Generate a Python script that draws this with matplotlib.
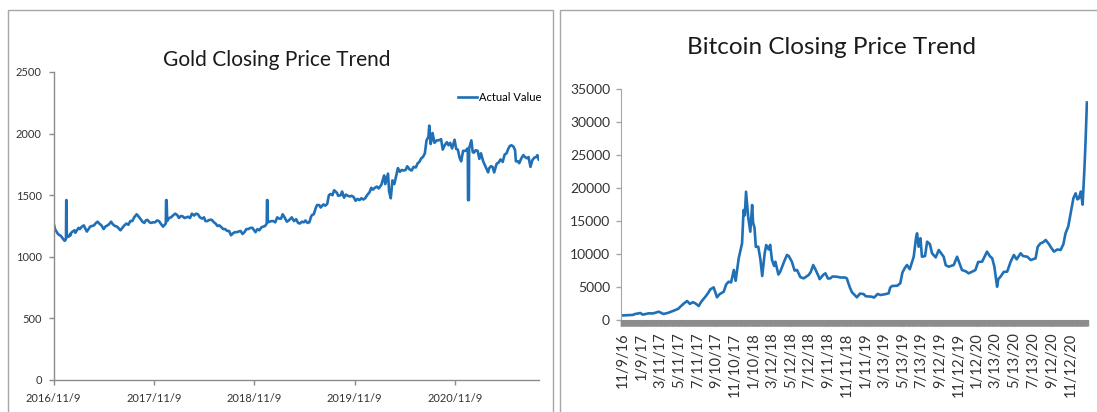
import matplotlib
matplotlib.use("Agg")
import matplotlib.pyplot as plt
import matplotlib.dates as mdates
from matplotlib.ticker import FixedLocator
from matplotlib.patches import Rectangle
import pandas as pd

plt.rcParams['font.family'] = ['Lato', 'DejaVu Sans']

# Gold close (sampled), USD/oz; the 1460 entries are the year-end gaps in the feed
gold_dates = [
    # 2016
    "2016-11-09", "2016-11-10", "2016-11-14", "2016-11-18", "2016-11-25", "2016-12-01",
    "2016-12-05", "2016-12-09", "2016-12-15", "2016-12-19", "2016-12-22", "2016-12-24",
    "2016-12-25", "2016-12-26", "2016-12-27",
    # 2017
    "2017-01-04", "2017-01-08", "2017-01-10", "2017-01-12", "2017-01-17", "2017-01-24", "2017-01-27",
    "2017-02-03", "2017-02-08", "2017-02-12", "2017-02-14", "2017-02-20", "2017-02-27",
    "2017-03-03", "2017-03-10", "2017-03-16", "2017-03-22", "2017-03-28",
    "2017-04-05", "2017-04-12", "2017-04-18", "2017-04-24",
    "2017-05-02", "2017-05-10", "2017-05-16", "2017-05-24", "2017-05-30",
    "2017-06-06", "2017-06-12", "2017-06-20", "2017-06-28",
    "2017-07-10", "2017-07-17", "2017-07-24",
    "2017-08-01", "2017-08-08", "2017-08-15", "2017-08-22", "2017-08-29",
    "2017-09-07", "2017-09-13", "2017-09-20", "2017-09-28",
    "2017-10-05", "2017-10-10", "2017-10-16", "2017-10-24", "2017-10-30",
    "2017-11-06", "2017-11-13", "2017-11-20", "2017-11-27",
    "2017-12-05", "2017-12-12", "2017-12-18", "2017-12-22", "2017-12-23", "2017-12-25", "2017-12-27",
    # 2018
    "2018-01-03", "2018-01-10", "2018-01-17", "2018-01-25",
    "2018-02-01", "2018-02-08", "2018-02-14", "2018-02-20", "2018-02-28",
    "2018-03-06", "2018-03-13", "2018-03-20", "2018-03-27",
    "2018-04-04", "2018-04-11", "2018-04-18", "2018-04-25",
    "2018-05-03", "2018-05-10", "2018-05-15", "2018-05-22", "2018-05-30",
    "2018-06-07", "2018-06-15", "2018-06-21", "2018-06-28",
    "2018-07-05", "2018-07-12", "2018-07-19", "2018-07-26",
    "2018-08-02", "2018-08-09", "2018-08-16", "2018-08-23", "2018-08-30",
    "2018-09-06", "2018-09-13", "2018-09-20", "2018-09-27",
    "2018-10-04", "2018-10-11", "2018-10-18", "2018-10-26",
    "2018-11-02", "2018-11-13", "2018-11-20", "2018-11-27",
    "2018-12-05", "2018-12-12", "2018-12-18", "2018-12-24", "2018-12-25", "2018-12-27", "2018-12-28",
    # 2019
    "2019-01-04", "2019-01-10", "2019-01-17", "2019-01-24", "2019-01-31",
    "2019-02-07", "2019-02-14", "2019-02-20", "2019-02-27",
    "2019-03-07", "2019-03-14", "2019-03-25",
    "2019-04-02", "2019-04-10", "2019-04-17", "2019-04-23",
    "2019-05-01", "2019-05-08", "2019-05-14", "2019-05-21", "2019-05-28",
    "2019-06-03", "2019-06-07", "2019-06-13", "2019-06-20", "2019-06-25",
    "2019-07-03", "2019-07-08", "2019-07-18", "2019-07-25",
    "2019-08-01", "2019-08-07", "2019-08-13", "2019-08-20", "2019-08-26",
    "2019-09-05", "2019-09-10", "2019-09-19", "2019-09-24",
    "2019-10-01", "2019-10-08", "2019-10-15", "2019-10-22", "2019-10-29",
    "2019-11-05", "2019-11-12", "2019-11-19", "2019-11-26",
    "2019-12-03", "2019-12-10", "2019-12-17", "2019-12-24",
    # 2020
    "2020-01-02", "2020-01-08", "2020-01-14", "2020-01-21", "2020-01-28",
    "2020-02-04", "2020-02-14", "2020-02-21", "2020-02-24", "2020-02-28",
    "2020-03-09", "2020-03-13", "2020-03-19", "2020-03-25",
    "2020-04-01", "2020-04-07", "2020-04-14", "2020-04-21", "2020-04-28",
    "2020-05-05", "2020-05-12", "2020-05-18", "2020-05-26",
    "2020-06-03", "2020-06-10", "2020-06-18", "2020-06-25",
    "2020-07-01", "2020-07-08", "2020-07-14", "2020-07-21", "2020-07-27",
    "2020-08-03", "2020-08-06", "2020-08-11", "2020-08-14", "2020-08-18", "2020-08-25",
    "2020-09-02", "2020-09-09", "2020-09-18", "2020-09-24",
    "2020-10-01", "2020-10-09", "2020-10-15", "2020-10-21", "2020-10-28",
    "2020-11-06", "2020-11-12", "2020-11-18", "2020-11-24", "2020-11-30",
    "2020-12-07", "2020-12-16", "2020-12-21", "2020-12-24", "2020-12-25", "2020-12-28", "2020-12-29",
    # 2021
    "2021-01-06", "2021-01-11", "2021-01-15", "2021-01-22", "2021-01-29",
    "2021-02-04", "2021-02-10", "2021-02-18", "2021-02-26",
    "2021-03-08", "2021-03-12", "2021-03-18", "2021-03-24", "2021-03-30",
    "2021-04-08", "2021-04-15", "2021-04-22", "2021-04-30",
    "2021-05-07", "2021-05-14", "2021-05-20", "2021-05-26",
    "2021-06-01", "2021-06-08", "2021-06-14", "2021-06-17", "2021-06-24", "2021-06-29",
    "2021-07-07", "2021-07-14", "2021-07-20", "2021-07-27",
    "2021-08-02", "2021-08-06", "2021-08-09", "2021-08-16", "2021-08-23", "2021-08-30",
    "2021-09-03", "2021-09-08",
]
gold_close = [
    # 2016
    1275, 1265, 1225, 1210, 1185, 1175,
    1170, 1160, 1140, 1130, 1135, 1150,
    1460, 1460, 1160,
    # 2017
    1165, 1185, 1175, 1195, 1205, 1215, 1195,
    1220, 1235, 1225, 1230, 1245, 1255,
    1235, 1205, 1225, 1245, 1250,
    1255, 1275, 1285, 1270,
    1255, 1225, 1245, 1255, 1265,
    1285, 1265, 1250, 1245,
    1215, 1235, 1255,
    1270, 1260, 1290, 1290, 1320,
    1345, 1330, 1310, 1285,
    1275, 1295, 1300, 1280, 1275,
    1280, 1280, 1295, 1290,
    1265, 1245, 1260, 1270, 1460, 1460, 1290,
    # 2018
    1315, 1320, 1335, 1350,
    1340, 1315, 1330, 1330, 1315,
    1320, 1325, 1315, 1350,
    1335, 1350, 1345, 1320,
    1310, 1320, 1290, 1290, 1300,
    1300, 1280, 1270, 1250,
    1255, 1240, 1225, 1225,
    1210, 1210, 1175, 1190, 1200,
    1200, 1205, 1210, 1185,
    1200, 1225, 1225, 1235,
    1235, 1200, 1225, 1215,
    1240, 1245, 1250, 1270, 1460, 1460, 1280,
    # 2019
    1285, 1290, 1290, 1280, 1320,
    1310, 1310, 1345, 1320,
    1285, 1295, 1320,
    1290, 1305, 1275, 1270,
    1285, 1280, 1295, 1275, 1280,
    1325, 1340, 1345, 1395, 1420,
    1420, 1400, 1425, 1415,
    1430, 1500, 1510, 1500, 1540,
    1520, 1495, 1500, 1530,
    1480, 1505, 1495, 1490, 1495,
    1485, 1455, 1470, 1460,
    1475, 1465, 1475, 1500,
    # 2020
    1525, 1560, 1545, 1560, 1570,
    1555, 1585, 1640, 1660, 1590,
    1675, 1530, 1475, 1620,
    1590, 1650, 1720, 1690, 1705,
    1700, 1705, 1735, 1710,
    1700, 1730, 1725, 1760,
    1770, 1800, 1810, 1840, 1945,
    1975, 2065, 1915, 1945, 2005, 1925,
    1945, 1945, 1955, 1870,
    1905, 1930, 1905, 1925, 1880,
    1950, 1875, 1870, 1805, 1775,
    1860, 1860, 1875, 1880, 1460, 1460, 1880,
    # 2021
    1945, 1850, 1845, 1865, 1860,
    1795, 1840, 1775, 1735,
    1685, 1720, 1735, 1730, 1685,
    1755, 1765, 1790, 1770,
    1830, 1840, 1875, 1900,
    1905, 1895, 1865, 1775, 1775, 1760,
    1800, 1825, 1810, 1800,
    1810, 1765, 1730, 1785, 1805, 1810,
    1825, 1790,
]
gold_ticks = ["2016/11/9", "2017/11/9", "2018/11/9", "2019/11/9", "2020/11/9"]

# Bitcoin close (sampled), USD
btc_dates = [
    "2016-11-09", "2016-11-25", "2016-12-10", "2016-12-18", "2017-01-04", "2017-01-12",
    "2017-01-31", "2017-02-15", "2017-03-05", "2017-03-21", "2017-04-05", "2017-04-23",
    "2017-05-08", "2017-05-15", "2017-05-25", "2017-06-06", "2017-06-15", "2017-06-25",
    "2017-07-03", "2017-07-14", "2017-07-22", "2017-08-05", "2017-08-14", "2017-08-21",
    "2017-09-01", "2017-09-12", "2017-09-20", "2017-10-04", "2017-10-12", "2017-10-20",
    "2017-10-28", "2017-11-06", "2017-11-12", "2017-11-22", "2017-12-03", "2017-12-08",
    "2017-12-12", "2017-12-16", "2017-12-23", "2017-12-30", "2018-01-05", "2018-01-08",
    "2018-01-13", "2018-01-17", "2018-01-25", "2018-02-01", "2018-02-07", "2018-02-15",
    "2018-02-20", "2018-02-28", "2018-03-05", "2018-03-11", "2018-03-18", "2018-03-22",
    "2018-04-01", "2018-04-07", "2018-04-20", "2018-04-29", "2018-05-05", "2018-05-15",
    "2018-05-24", "2018-06-01", "2018-06-12", "2018-06-23", "2018-07-09", "2018-07-16",
    "2018-07-24", "2018-08-01", "2018-08-11", "2018-08-14", "2018-08-27", "2018-09-02",
    "2018-09-10", "2018-09-18", "2018-09-25", "2018-10-10", "2018-10-20", "2018-11-05",
    "2018-11-11", "2018-11-16", "2018-11-22", "2018-11-28", "2018-12-14", "2018-12-24",
    "2019-01-05", "2019-01-12", "2019-02-01", "2019-02-08", "2019-02-20", "2019-03-01",
    "2019-03-15", "2019-03-28", "2019-04-02", "2019-04-08", "2019-04-25", "2019-05-05",
    "2019-05-12", "2019-05-20", "2019-05-27", "2019-06-05", "2019-06-18", "2019-06-26",
    "2019-06-29", "2019-07-04", "2019-07-10", "2019-07-15", "2019-07-25", "2019-08-01",
    "2019-08-10", "2019-08-17", "2019-08-29", "2019-09-08", "2019-09-24", "2019-10-01",
    "2019-10-11", "2019-10-27", "2019-11-07", "2019-11-14", "2019-11-23", "2019-12-05",
    "2019-12-15", "2019-12-25", "2020-01-06", "2020-01-15", "2020-01-28", "2020-02-05",
    "2020-02-13", "2020-02-22", "2020-03-01", "2020-03-08", "2020-03-17", "2020-03-21",
    "2020-03-28", "2020-04-08", "2020-04-19", "2020-04-30", "2020-05-11", "2020-05-20",
    "2020-06-02", "2020-06-10", "2020-06-24", "2020-07-05", "2020-07-21", "2020-07-28",
    "2020-08-06", "2020-08-15", "2020-08-23", "2020-09-03", "2020-09-08", "2020-09-19",
    "2020-09-30", "2020-10-11", "2020-10-20", "2020-10-27", "2020-11-05", "2020-11-13",
    "2020-11-22", "2020-11-29", "2020-12-05", "2020-12-10", "2020-12-16", "2020-12-22",
    "2020-12-28", "2021-01-01", "2021-01-05",
]
btc_close = [
    700, 740, 770, 910, 1060, 810,
    1010, 1000, 1260, 910, 1090, 1410,
    1700, 2020, 2450, 2880, 2450, 2700,
    2530, 2120, 2750, 3540, 4100, 4650,
    4950, 3440, 3900, 4300, 5400, 5810,
    5700, 7580, 5950, 9360, 11630, 16690,
    15900, 19460, 15670, 13400, 17450, 14800,
    13910, 11100, 11120, 9200, 6670, 10100,
    11380, 10700, 11400, 9100, 8200, 8840,
    6900, 7330, 8900, 9860, 9700, 8850,
    7500, 7585, 6500, 6320, 6830, 7300,
    8340, 7600, 6570, 6200, 6900, 7080,
    6300, 6320, 6600, 6570, 6450, 6450,
    6320, 5600, 4810, 4200, 3440, 4000,
    3940, 3600, 3540, 3400, 3950, 3790,
    3900, 4050, 4900, 5160, 5200, 5570,
    7200, 7900, 8340, 7700, 9600, 12600,
    13150, 11120, 12400, 9600, 9700, 11880,
    11500, 10120, 9500, 10620, 9600, 8300,
    8090, 8340, 9600, 8700, 7580, 7400,
    7080, 7300, 7580, 8800, 8850, 9600,
    10370, 9700, 9360, 8100, 5050, 6200,
    6570, 7300, 7330, 8800, 9860, 9200,
    10120, 9700, 9600, 9100, 9360, 11100,
    11630, 11800, 12140, 11500, 11120, 10370,
    10700, 10620, 11500, 13150, 14200, 16190,
    18500, 19220, 18300, 18460, 19500, 17500,
    23000, 27500, 33000,
]
btc_ticks = [
    "11/9/16", "1/9/17", "3/11/17", "5/11/17", "7/11/17", "9/10/17", "11/10/17",
    "1/10/18", "3/12/18", "5/12/18", "7/12/18", "9/11/18", "11/11/18",
    "1/11/19", "3/13/19", "5/13/19", "7/13/19", "9/12/19", "11/12/19",
    "1/12/20", "3/13/20", "5/13/20", "7/13/20", "9/12/20", "11/12/20",
]

assert len(gold_dates) == len(gold_close)
assert len(btc_dates) == len(btc_close)

LINE = '#1f70b6'
AXIS_GREY = '#8c8c8c'
TEXT = '#333333'

W, H = 1097, 412
fig = plt.figure(figsize=(W / 100, H / 100), dpi=100)

# chart-area frames
fig.add_artist(Rectangle((8 / W, -0.05), 545 / W, 1 - 10 / H + 0.05, transform=fig.transFigure,
                         fill=False, ec='#a6a6a6', lw=1.0))
fig.add_artist(Rectangle((560 / W, -0.05), 0.6, 1 - 10 / H + 0.05, transform=fig.transFigure,
                         fill=False, ec='#a6a6a6', lw=1.0))

# ---- gold ----
ax1 = fig.add_axes([53.6 / W, (H - 380) / H, 485.4 / W, 308 / H])
gx = pd.to_datetime(gold_dates)
ax1.plot(gx, gold_close, color=LINE, lw=1.9, label='Actual Value')
ax1.set_ylim(0, 2500)
ax1.set_yticks(range(0, 2501, 500))
ax1.set_xlim(pd.Timestamp("2016-11-09"), pd.Timestamp("2021-09-09"))
ax1.set_xticks(pd.to_datetime(gold_ticks, format="%Y/%m/%d"))
ax1.set_xticklabels(gold_ticks)
for s in ('top', 'right'):
    ax1.spines[s].set_visible(False)
for s in ('left', 'bottom'):
    ax1.spines[s].set_color(AXIS_GREY)
    ax1.spines[s].set_linewidth(1.0)
ax1.tick_params(axis='both', direction='out', length=3.5, width=1.0, color=AXIS_GREY,
                labelsize=8, labelcolor=TEXT)
ax1.tick_params(axis='x', pad=5.5)
ax1.tick_params(axis='y', pad=5)
ax1.legend(loc='center right', bbox_to_anchor=(1.004, 0.918), frameon=False, fontsize=8,
           handlelength=1.7, handletextpad=0.15, borderpad=0, borderaxespad=0)
fig.text(277 / W, 1 - 60 / H, "Gold Closing Price Trend", ha='center', va='center',
         fontsize=15, color='#1a1a1a')

# ---- bitcoin ----
ax2 = fig.add_axes([620.5 / W, (H - 320) / H, 467 / W, 230.7 / H])
bx = pd.to_datetime(btc_dates)
ax2.plot(bx, btc_close, color=LINE, lw=1.9)
ax2.set_ylim(0, 35000)
ax2.set_yticks(range(0, 35001, 5000))
ax2.set_xlim(pd.Timestamp("2016-10-31"), pd.Timestamp("2021-01-07"))
ax2.set_xticks(pd.to_datetime(btc_ticks, format="%m/%d/%y"))
ax2.set_xticklabels(btc_ticks, rotation=90)
# one tick mark per daily category, which merges into a solid band
day_marks = mdates.date2num(pd.date_range("2016-11-01", "2021-01-07", freq="2D"))
ax2.xaxis.set_minor_locator(FixedLocator(day_marks))
for s in ('top', 'right'):
    ax2.spines[s].set_visible(False)
ax2.spines['left'].set_color('#a6a6a6')
ax2.spines['bottom'].set_color(AXIS_GREY)
ax2.tick_params(axis='y', direction='out', length=3.5, width=1.0, color='#a6a6a6',
                labelsize=10, labelcolor=TEXT, pad=4)
ax2.tick_params(axis='x', which='both', direction='out', length=4.5, width=1.0, color=AXIS_GREY)
ax2.tick_params(axis='x', which='major', labelsize=10.5, labelcolor=TEXT, pad=4.5)
fig.text(831.5 / W, 1 - 47 / H, "Bitcoin Closing Price Trend", ha='center', va='center',
         fontsize=17.5, color='#1a1a1a')

fig.savefig("out.png", dpi=100)
